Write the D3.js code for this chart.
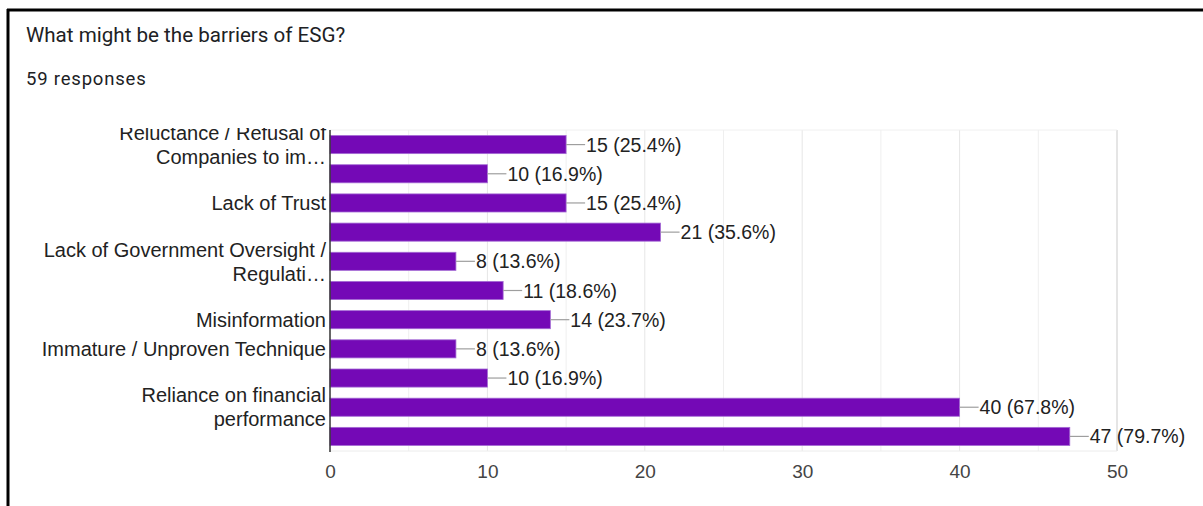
<!DOCTYPE html>
<html>
<head>
<meta charset="utf-8">
<script src="https://cdn.jsdelivr.net/npm/d3@7"></script>
<style>
  html, body { margin: 0; padding: 0; background: #fff; }
  svg { display: block; }
</style>
</head>
<body>
<svg id="chart" width="1203" height="506"></svg>
<script>
// ---- data ----
const categoryLabels = [
  "Reluctance / Refusal of\nCompanies to im…",
  "",
  "Lack of Trust",
  "",
  "Lack of Government Oversight /\nRegulati…",
  "",
  "Misinformation",
  "Immature / Unproven Technique",
  "",
  "Reliance on financial\nperformance",
  ""
];
const counts = [15, 10, 15, 21, 8, 11, 14, 8, 10, 40, 47];
const percents = ["25.4%", "16.9%", "25.4%", "35.6%", "13.6%", "18.6%", "23.7%", "13.6%", "16.9%", "67.8%", "79.7%"];
const xTicks = [0, 10, 20, 30, 40, 50];
const xMinorTicks = [5, 15, 25, 35, 45];
const titleText = "What might be the barriers of ESG?";
const subtitleText = "59 responses";

// ---- layout ----
const svg = d3.select("#chart");
const W = 1203, H = 506;
const plot = { left: 330, right: 1117, top: 130, bottom: 451 };
const chartFont = "'Liberation Sans', Arial, sans-serif";

// frame borders
svg.append("line").attr("x1", 7).attr("x2", W).attr("y1", 10).attr("y2", 10)
  .attr("stroke", "#000").attr("stroke-width", 3);
svg.append("line").attr("x1", 8).attr("x2", 8).attr("y1", 9).attr("y2", H)
  .attr("stroke", "#000").attr("stroke-width", 3);

// title
svg.append("text").attr("x", 26).attr("y", 42)
  .attr("font-family", "Roboto, sans-serif").attr("font-size", 20.6)
  .attr("fill", "#202124").text(titleText);
svg.append("text").attr("x", 26).attr("y", 85)
  .attr("font-family", "Roboto, sans-serif").attr("font-size", 18.5)
  .attr("letter-spacing", 0.8)
  .attr("fill", "#202124").text(subtitleText);

const idx = d3.range(counts.length);
const x = d3.scaleLinear().domain([0, 50]).range([plot.left, plot.right]);
const y = d3.scaleBand().domain(idx).range([plot.top, plot.bottom]).paddingInner(0.38).paddingOuter(0.19);

// grid
const grid = svg.append("g");
grid.selectAll("line.minor").data(xMinorTicks).join("line")
  .attr("class", "minor")
  .attr("x1", d => x(d)).attr("x2", d => x(d))
  .attr("y1", plot.top).attr("y2", plot.bottom)
  .attr("stroke", "#efefef").attr("stroke-width", 1);
grid.selectAll("line.major").data(xTicks.filter(d => d > 0)).join("line")
  .attr("class", "major")
  .attr("x1", d => x(d)).attr("x2", d => x(d))
  .attr("y1", plot.top).attr("y2", plot.bottom)
  .attr("stroke", d => d === 50 ? "#dcdcdc" : "#e6e6e6").attr("stroke-width", d => d === 50 ? 1.5 : 1);
grid.append("line").attr("x1", plot.left).attr("x2", plot.right)
  .attr("y1", plot.top).attr("y2", plot.top).attr("stroke", "#f0f0f0");
grid.append("line").attr("x1", plot.left).attr("x2", plot.right)
  .attr("y1", plot.bottom).attr("y2", plot.bottom).attr("stroke", "#ececec");

// bars
svg.append("g").selectAll("rect").data(idx).join("rect")
  .attr("x", x(0))
  .attr("y", i => y(i))
  .attr("width", i => x(counts[i]) - x(0))
  .attr("height", y.bandwidth())
  .attr("fill", "#7409b6")
  .attr("stroke", "#a46ad4").attr("stroke-width", 0.8);

// connectors + value labels
const vl = svg.append("g");
vl.selectAll("line").data(idx).join("line")
  .attr("x1", i => x(counts[i])).attr("x2", i => x(counts[i]) + 19)
  .attr("y1", i => y(i) + y.bandwidth() / 2).attr("y2", i => y(i) + y.bandwidth() / 2)
  .attr("stroke", "#9e9e9e").attr("stroke-width", 1.2);
vl.selectAll("text").data(idx).join("text")
  .attr("x", i => x(counts[i]) + 20)
  .attr("y", i => y(i) + y.bandwidth() / 2)
  .attr("dy", "0.36em")
  .attr("font-family", chartFont).attr("font-size", 19.5)
  .attr("fill", "#222")
  .text(i => `${counts[i]} (${percents[i]})`);

// left axis line
svg.append("line").attr("x1", plot.left).attr("x2", plot.left)
  .attr("y1", plot.top).attr("y2", plot.bottom + 1)
  .attr("stroke", "#333").attr("stroke-width", 1.5);

// x axis tick labels
const xAxis = d3.axisBottom(x).tickValues(xTicks).tickSize(0).tickPadding(0);
const xg = svg.append("g").attr("transform", `translate(0,${plot.bottom + 13})`).call(xAxis);
xg.select(".domain").remove();
xg.selectAll("text").attr("font-family", chartFont).attr("font-size", 19)
  .attr("fill", "#444").attr("dy", "0.71em");

// category labels (clipped at plot top)
svg.append("clipPath").attr("id", "labclip").append("rect")
  .attr("x", 0).attr("y", 128).attr("width", plot.left).attr("height", 400);
const lab = svg.append("g").attr("clip-path", "url(#labclip)");
const lineH = 24;
idx.forEach(i => {
  const s = categoryLabels[i];
  if (!s) return;
  const lines = s.split("\n");
  const cy = y(i) + y.bandwidth() / 2;
  const t = lab.append("text")
    .attr("text-anchor", "end")
    .attr("font-family", chartFont).attr("font-size", 20)
    .attr("fill", "#222");
  lines.forEach((ln, k) => {
    t.append("tspan").attr("x", plot.left - 4)
      .attr("y", cy + (k - (lines.length - 1) / 2) * lineH)
      .attr("dy", "0.36em").text(ln);
  });
});
</script>
</body>
</html>
